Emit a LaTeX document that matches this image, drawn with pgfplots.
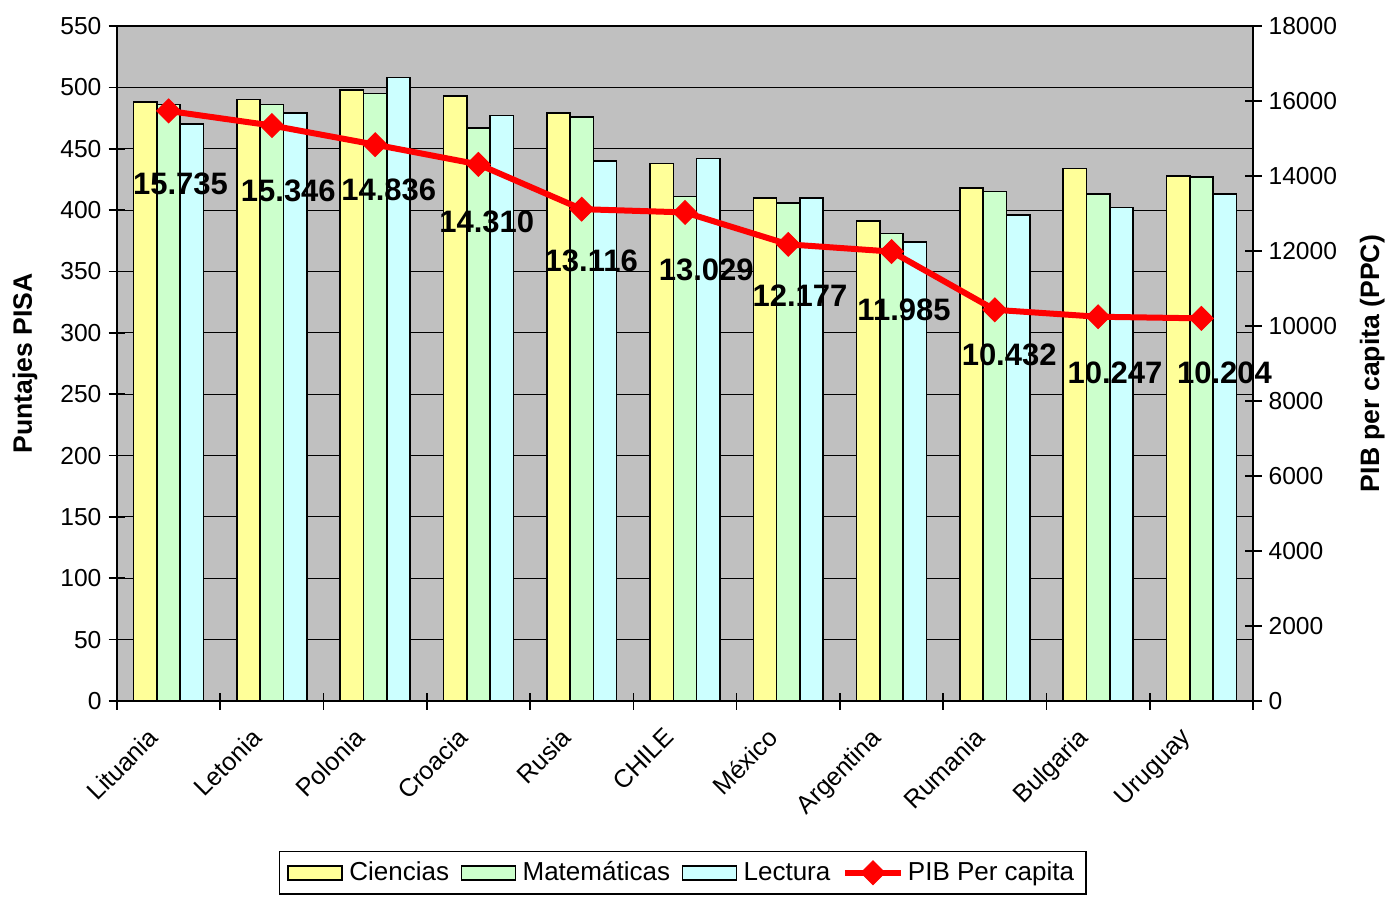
\documentclass[border=0pt]{standalone}
\usepackage{fontspec}
\setmainfont{Liberation Sans}
\usepackage{pgfplots}
\pgfplotsset{compat=1.18}
\usepackage{pgfplotstable}

\definecolor{cien}{HTML}{FFFF99}
\definecolor{mate}{HTML}{CCFFCC}
\definecolor{lect}{HTML}{CCFFFF}
\definecolor{bg}{HTML}{C0C0C0}

\newcommand\tfont{\fontsize{12.3}{14}\selectfont}
\newcommand\xfont{\fontsize{12.6}{14}\selectfont}
\newcommand\lfont{\fontsize{13.3}{15}\selectfont\bfseries}
\newcommand\dfont{\fontsize{15.5}{18}\selectfont\bfseries}
\newcommand\gfont{\fontsize{13}{15}\selectfont}

\pgfplotsset{
  pibleg/.style={legend image code/.code={\draw[##1, mark repeat=2, mark phase=2] plot coordinates {(0pt,0pt) (14pt,0pt) (28pt,0pt)};}},
  barleg/.style={legend image code/.code={\draw[fill=#1,draw=black,line width=0.8pt] (0pt,-3.5pt) rectangle (27pt,3.5pt); \path (28.2pt,0pt);}},
}

\pgfplotstableread{
x C M L
0 488 486 470
1 490 486 479
2 498 495 508
3 493 467 477
4 479 476 440
5 438 411 442
6 410 406 410
7 391 381 374
8 418 415 396
9 434 413 402
10 428 427 413
}\pisa

\pgfplotstableread{
x pib
0 15735
1 15346
2 14836
3 14310
4 13116
5 13029
6 12177
7 11985
8 10432
9 10247
10 10204
}\pib

\pgfplotstableread{
lx ly lab
0.115 13800 15.735
1.159 13592 15.346
2.132 13640 14.836
3.080 12781 14.310
4.092 11725 13.116
5.206 11493 13.029
6.114 10800 12.177
7.121 10427 11.985
8.139 9219 10.432
9.164 8739 10.247
10.224 8739 10.204
}\labs

\begin{document}
\begin{tikzpicture}
\begin{axis}[
  at={(0,0)}, anchor=south west,
  scale only axis, width=568pt, height=337.5pt,
  xmin=-0.5, xmax=10.5, ymin=0, ymax=550,
  ybar=0pt, bar width=11.65pt,
  axis background/.style={fill=bg},
  axis line style={line width=0.8pt},
  ytick={0,50,...,550},
  ymajorgrids, grid style={black, line width=0.5pt},
  xtick={-0.5,0.5,...,10.5},
  xticklabel={\empty},
  extra x ticks={0,1,...,10},
  extra x tick labels={Lituania,Letonia,Polonia,Croacia,Rusia,CHILE,México,Argentina,Rumania,Bulgaria,Uruguay},
  extra x tick style={major tick length=0pt, grid=none},
  xtick pos=bottom, ytick pos=left,
  tick align=center, major tick length=8.5pt,
  tick style={black, line width=0.8pt},
  tick label style={font=\tfont},
  /pgf/number format/assume math mode=true,
  xticklabel style={font=\xfont, xshift=-10.9pt, yshift=-12.5pt, rotate=45, anchor=north east, inner sep=0pt},
  ylabel={Puntajes PISA},
  ylabel style={font=\lfont, at={(axis description cs:-0.081,0.5)}, anchor=center},
]
\addplot[fill=cien, draw=black, line width=0.8pt] table[x=x,y=C]{\pisa};
\addplot[fill=mate, draw=black, line width=0.8pt] table[x=x,y=M]{\pisa};
\addplot[fill=lect, draw=black, line width=0.8pt] table[x=x,y=L]{\pisa};
\end{axis}

\begin{axis}[
  at={(0,0)}, anchor=south west,
  scale only axis, width=568pt, height=337.5pt,
  xmin=-0.5, xmax=10.5, ymin=0, ymax=18000,
  axis x line=none, axis y line*=right,
  axis line style={line width=0.8pt},
  ytick={0,2000,...,18000},
  scaled y ticks=false,
  tick align=center, major tick length=8.5pt,
  tick style={black, line width=0.8pt},
  tick label style={font=\tfont},
  /pgf/number format/assume math mode=true,
  yticklabel style={/pgf/number format/1000 sep={}},
  ylabel={PIB per capita (PPC)},
  ylabel style={font=\lfont, at={(axis description cs:1.105,0.5)}, anchor=center},
  clip=false,
  legend columns=4,
  legend cell align=left,
  legend style={at={(0.498,-0.222)}, anchor=north, draw=black, line width=0.8pt,
    font=\gfont, inner xsep=4pt, inner ysep=3pt,
    /tikz/every even column/.append style={column sep=3.8pt}},
]
\addlegendimage{barleg=cien}
\addlegendentry{Ciencias}
\addlegendimage{barleg=mate}
\addlegendentry{Matemáticas}
\addlegendimage{barleg=lect}
\addlegendentry{Lectura}
\addplot[red, line width=3pt, mark=square*, mark size=4.2pt,
  mark options={rotate=45, line width=0.5pt, fill=red, draw=red}, pibleg]
  table[x=x,y=pib]{\pib};
\addlegendentry{PIB Per capita}
\addplot[draw=none, nodes near coords, point meta=explicit symbolic,
  nodes near coords style={font=\dfont, anchor=center, inner sep=0pt, text=black},
  forget plot] table[x=lx,y=ly,meta=lab]{\labs};
\end{axis}
\pgfresetboundingbox
\path[use as bounding box] (-58.5pt,-97.5pt) rectangle (635pt,350.5pt);
\end{tikzpicture}
\end{document}
